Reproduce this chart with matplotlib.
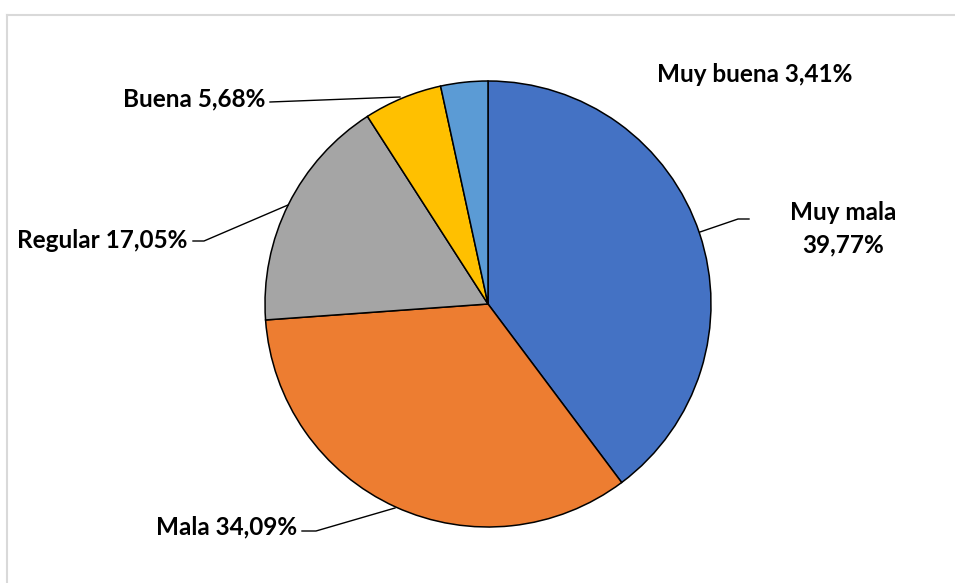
import numpy as np
import matplotlib.pyplot as plt
from matplotlib.lines import Line2D

# data
labels = ['Muy mala', 'Mala', 'Regular', 'Buena', 'Muy buena']
values = [39.77, 34.09, 17.05, 5.68, 3.41]
colors = ['#4472C4', '#ED7D31', '#A5A5A5', '#FFC000', '#5B9BD5']

plt.rcParams['font.family'] = ['Lato', 'DejaVu Sans']

W, H = 955, 583
fig = plt.figure(figsize=(W / 100, H / 100), dpi=100)
ax = fig.add_axes([0, 0, 1, 1])

# pie in pixel-like coordinates (y measured from bottom)
cx, cy, r = 488, H - 304, 223
ax.pie(values, colors=colors, startangle=90, counterclock=False,
       center=(cx, cy), radius=r, frame=True,
       wedgeprops=dict(edgecolor='black', linewidth=1.1))
ax.set_xlim(0, W)
ax.set_ylim(0, H)
ax.set_aspect('equal')
ax.axis('off')

def pct(v):
    return ('%.2f%%' % v).replace('.', ',')

fs = 17.5
tk = dict(fontsize=fs, fontweight='bold', color='black')

# labels and leader lines
ax.text(843, H - 213, labels[0], ha='center', va='center', **tk)
ax.text(843, H - 245, pct(values[0]), ha='center', va='center', **tk)
ax.plot([700, 738, 749], [H - 232, H - 219, H - 219], color='black', lw=1)

ax.text(297, H - 527, labels[1] + ' ' + pct(values[1]), ha='right', va='center', **tk)
ax.plot([302, 316, 395], [H - 531, H - 531, H - 508], color='black', lw=1)

ax.text(187, H - 240, labels[2] + ' ' + pct(values[2]), ha='right', va='center', **tk)
ax.plot([193, 204, 288], [H - 241, H - 241, H - 205], color='black', lw=1)

ax.text(265, H - 99, labels[3] + ' ' + pct(values[3]), ha='right', va='center', **tk)
ax.plot([270, 400], [H - 102, H - 97], color='black', lw=1)

ax.text(755, H - 75, labels[4] + ' ' + pct(values[4]), ha='center', va='center', **tk)

# chart area border (top and left visible)
fig.add_artist(Line2D([7 / W, 7 / W], [0, 1 - 15 / H], color='#D9D9D9', lw=1.5))
fig.add_artist(Line2D([7 / W, 1], [1 - 15 / H, 1 - 15 / H], color='#D9D9D9', lw=1.5))

fig.savefig('out.png', dpi=100)
